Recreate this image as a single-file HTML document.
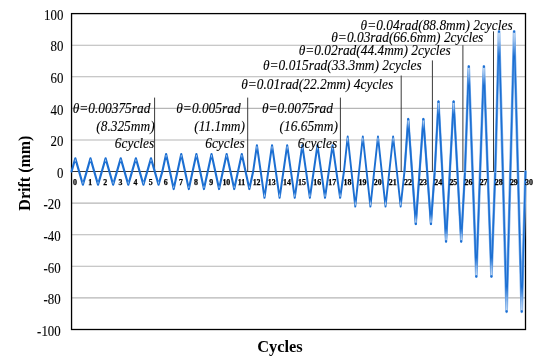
<!DOCTYPE html>
<html><head><meta charset="utf-8"><title>Loading protocol</title>
<style>
html,body{margin:0;padding:0;background:#fff;}
body{width:550px;height:364px;overflow:hidden;}
svg{display:block;}
text{font-family:"Liberation Serif","Times New Roman",serif;fill:#111;}
.ann{font-style:italic;font-size:13.4px;fill:#000;stroke:#000;stroke-width:0.1px;}
.yl{font-size:13px;text-anchor:end;fill:#000;stroke:#000;stroke-width:0.1px;}
.tk{font-size:7.9px;font-weight:bold;text-anchor:middle;fill:#000;stroke:#000;stroke-width:0.25px;}
.ax{font-size:16px;font-weight:bold;fill:#000;}
</style></head><body>
<svg width="550" height="364" viewBox="0 0 550 364">
<rect width="550" height="364" fill="#fff"/>

<line x1="71.55" x2="525.5" y1="45.19" y2="45.19" stroke="#b6b6b6" stroke-width="1.1"/>
<line x1="71.55" x2="525.5" y1="76.78" y2="76.78" stroke="#b6b6b6" stroke-width="1.1"/>
<line x1="71.55" x2="525.5" y1="108.37" y2="108.37" stroke="#b6b6b6" stroke-width="1.1"/>
<line x1="71.55" x2="525.5" y1="139.96" y2="139.96" stroke="#b6b6b6" stroke-width="1.1"/>
<line x1="71.55" x2="525.5" y1="203.14" y2="203.14" stroke="#b6b6b6" stroke-width="1.1"/>
<line x1="71.55" x2="525.5" y1="234.73" y2="234.73" stroke="#b6b6b6" stroke-width="1.1"/>
<line x1="71.55" x2="525.5" y1="266.32" y2="266.32" stroke="#b6b6b6" stroke-width="1.1"/>
<line x1="71.55" x2="525.5" y1="297.91" y2="297.91" stroke="#b6b6b6" stroke-width="1.1"/>
<text class="yl" transform="translate(63.4,19.80) scale(0.99,1.08)">100</text>
<text class="yl" transform="translate(63.4,51.39) scale(0.99,1.08)">80</text>
<text class="yl" transform="translate(63.4,82.98) scale(0.99,1.08)">60</text>
<text class="yl" transform="translate(63.4,114.57) scale(0.99,1.08)">40</text>
<text class="yl" transform="translate(63.4,146.16) scale(0.99,1.08)">20</text>
<text class="yl" transform="translate(63.4,177.75) scale(0.99,1.08)">0</text>
<text class="yl" transform="translate(60.7,209.34) scale(0.99,1.08)">-20</text>
<text class="yl" transform="translate(60.7,240.93) scale(0.99,1.08)">-40</text>
<text class="yl" transform="translate(60.7,272.52) scale(0.99,1.08)">-60</text>
<text class="yl" transform="translate(60.7,304.11) scale(0.99,1.08)">-80</text>
<text class="yl" transform="translate(60.7,335.70) scale(0.99,1.08)">-100</text>
<line x1="154.6" x2="154.6" y1="97.6" y2="171.55" stroke="#3a3a3a" stroke-width="1"/>
<line x1="247.7" x2="247.7" y1="97.6" y2="171.55" stroke="#3a3a3a" stroke-width="1"/>
<line x1="340.4" x2="340.4" y1="97.6" y2="171.55" stroke="#3a3a3a" stroke-width="1"/>
<line x1="401.2" x2="401.2" y1="75.5" y2="171.55" stroke="#3a3a3a" stroke-width="1"/>
<line x1="432.4" x2="432.4" y1="60.4" y2="171.55" stroke="#3a3a3a" stroke-width="1"/>
<line x1="462.9" x2="462.9" y1="45.2" y2="171.55" stroke="#3a3a3a" stroke-width="1"/>
<line x1="493.5" x2="493.5" y1="31.3" y2="171.55" stroke="#3a3a3a" stroke-width="1"/>
<line x1="71.55" x2="525.5" y1="171.55" y2="171.55" stroke="#333" stroke-width="1.1"/>
<rect x="71.55" y="13.6" width="453.95" height="315.90" fill="none" stroke="#000" stroke-width="1.3"/>
<polyline points="71.55,171.55 75.33,158.40 82.90,184.70 90.46,158.40 98.03,184.70 105.60,158.40 113.16,184.70 120.73,158.40 128.29,184.70 135.86,158.40 143.43,184.70 150.99,158.40 158.56,184.70 162.34,171.55" fill="none" stroke="#1c6fd2" stroke-width="2.15" stroke-linejoin="round" stroke-linecap="round"/>
<polyline points="162.34,171.55 166.12,154.02 173.69,189.08 181.25,154.02 188.82,189.08 196.39,154.02 203.95,189.08 211.52,154.02 219.08,189.08 226.65,154.02 234.22,189.08 241.78,154.02 249.35,189.08 253.13,171.55" fill="none" stroke="#1c6fd2" stroke-width="2.1" stroke-linejoin="round" stroke-linecap="round"/>
<polyline points="253.13,171.55 256.91,145.25 264.48,197.85 272.04,145.25 279.61,197.85 287.18,145.25 294.74,197.85 302.31,145.25 309.87,197.85 317.44,145.25 325.01,197.85 332.57,145.25 340.14,197.85 343.92,171.55" fill="none" stroke="#1c6fd2" stroke-width="2.0" stroke-linejoin="round" stroke-linecap="round"/>
<polyline points="343.92,171.55 347.70,136.49 355.27,206.61 362.83,136.49 370.40,206.61 377.97,136.49 385.53,206.61 393.10,136.49 400.66,206.61 404.45,171.55" fill="none" stroke="#1c6fd2" stroke-width="1.9" stroke-linejoin="round" stroke-linecap="round"/>
<polyline points="404.45,171.55 408.23,118.95 415.80,224.15 423.36,118.95 430.93,224.15 434.71,171.55" fill="none" stroke="#7db0ec" stroke-width="2.3" stroke-linejoin="round" stroke-linecap="round"/>
<polyline points="404.45,171.55 408.23,118.95 415.80,224.15 423.36,118.95 430.93,224.15 434.71,171.55" fill="none" stroke="#1c6fd2" stroke-width="1.8" stroke-linejoin="round" stroke-linecap="round"/>
<polyline points="434.71,171.55 438.49,101.42 446.06,241.68 453.62,101.42 461.19,241.68 464.97,171.55" fill="none" stroke="#7db0ec" stroke-width="2.4" stroke-linejoin="round" stroke-linecap="round"/>
<polyline points="434.71,171.55 438.49,101.42 446.06,241.68 453.62,101.42 461.19,241.68 464.97,171.55" fill="none" stroke="#1c6fd2" stroke-width="1.7" stroke-linejoin="round" stroke-linecap="round"/>
<polyline points="464.97,171.55 468.76,66.36 476.32,276.74 483.89,66.36 491.45,276.74 495.24,171.55" fill="none" stroke="#7db0ec" stroke-width="2.6" stroke-linejoin="round" stroke-linecap="round"/>
<polyline points="464.97,171.55 468.76,66.36 476.32,276.74 483.89,66.36 491.45,276.74 495.24,171.55" fill="none" stroke="#1c6fd2" stroke-width="1.55" stroke-linejoin="round" stroke-linecap="round"/>
<polyline points="495.24,171.55 499.02,31.29 506.59,311.81 514.15,31.29 521.72,311.81 525.50,171.55" fill="none" stroke="#7db0ec" stroke-width="2.7" stroke-linejoin="round" stroke-linecap="round"/>
<polyline points="495.24,171.55 499.02,31.29 506.59,311.81 514.15,31.29 521.72,311.81 525.50,171.55" fill="none" stroke="#1c6fd2" stroke-width="1.45" stroke-linejoin="round" stroke-linecap="round"/>
<defs><linearGradient id="gu" x1="0" y1="0" x2="0" y2="1"><stop offset="0" stop-color="#c6dcf6" stop-opacity="0.95"/><stop offset="0.35" stop-color="#c6dcf6" stop-opacity="0.75"/><stop offset="1" stop-color="#c6dcf6" stop-opacity="0"/></linearGradient><linearGradient id="gd" x1="0" y1="1" x2="0" y2="0"><stop offset="0" stop-color="#c6dcf6" stop-opacity="0.95"/><stop offset="0.35" stop-color="#c6dcf6" stop-opacity="0.75"/><stop offset="1" stop-color="#c6dcf6" stop-opacity="0"/></linearGradient></defs>
<rect x="74.83" y="159.60" width="1.0" height="3.00" fill="url(#gu)"/>
<rect x="82.40" y="180.50" width="1.0" height="3.00" fill="url(#gd)"/>
<rect x="89.96" y="159.60" width="1.0" height="3.00" fill="url(#gu)"/>
<rect x="97.53" y="180.50" width="1.0" height="3.00" fill="url(#gd)"/>
<rect x="105.10" y="159.60" width="1.0" height="3.00" fill="url(#gu)"/>
<rect x="112.66" y="180.50" width="1.0" height="3.00" fill="url(#gd)"/>
<rect x="120.23" y="159.60" width="1.0" height="3.00" fill="url(#gu)"/>
<rect x="127.79" y="180.50" width="1.0" height="3.00" fill="url(#gd)"/>
<rect x="135.36" y="159.60" width="1.0" height="3.00" fill="url(#gu)"/>
<rect x="142.93" y="180.50" width="1.0" height="3.00" fill="url(#gd)"/>
<rect x="150.49" y="159.60" width="1.0" height="3.00" fill="url(#gu)"/>
<rect x="158.06" y="180.50" width="1.0" height="3.00" fill="url(#gd)"/>
<rect x="165.62" y="155.22" width="1.0" height="3.00" fill="url(#gu)"/>
<rect x="173.19" y="184.88" width="1.0" height="3.00" fill="url(#gd)"/>
<rect x="180.75" y="155.22" width="1.0" height="3.00" fill="url(#gu)"/>
<rect x="188.32" y="184.88" width="1.0" height="3.00" fill="url(#gd)"/>
<rect x="195.89" y="155.22" width="1.0" height="3.00" fill="url(#gu)"/>
<rect x="203.45" y="184.88" width="1.0" height="3.00" fill="url(#gd)"/>
<rect x="211.02" y="155.22" width="1.0" height="3.00" fill="url(#gu)"/>
<rect x="218.58" y="184.88" width="1.0" height="3.00" fill="url(#gd)"/>
<rect x="226.15" y="155.22" width="1.0" height="3.00" fill="url(#gu)"/>
<rect x="233.72" y="184.88" width="1.0" height="3.00" fill="url(#gd)"/>
<rect x="241.28" y="155.22" width="1.0" height="3.00" fill="url(#gu)"/>
<rect x="248.85" y="184.88" width="1.0" height="3.00" fill="url(#gd)"/>
<rect x="256.36" y="146.45" width="1.1" height="4.50" fill="url(#gu)"/>
<rect x="263.93" y="192.15" width="1.1" height="4.50" fill="url(#gd)"/>
<rect x="271.49" y="146.45" width="1.1" height="4.50" fill="url(#gu)"/>
<rect x="279.06" y="192.15" width="1.1" height="4.50" fill="url(#gd)"/>
<rect x="286.63" y="146.45" width="1.1" height="4.50" fill="url(#gu)"/>
<rect x="294.19" y="192.15" width="1.1" height="4.50" fill="url(#gd)"/>
<rect x="301.76" y="146.45" width="1.1" height="4.50" fill="url(#gu)"/>
<rect x="309.32" y="192.15" width="1.1" height="4.50" fill="url(#gd)"/>
<rect x="316.89" y="146.45" width="1.1" height="4.50" fill="url(#gu)"/>
<rect x="324.46" y="192.15" width="1.1" height="4.50" fill="url(#gd)"/>
<rect x="332.02" y="146.45" width="1.1" height="4.50" fill="url(#gu)"/>
<rect x="339.59" y="192.15" width="1.1" height="4.50" fill="url(#gd)"/>
<rect x="347.10" y="137.69" width="1.2" height="5.99" fill="url(#gu)"/>
<rect x="354.67" y="199.42" width="1.2" height="5.99" fill="url(#gd)"/>
<rect x="362.23" y="137.69" width="1.2" height="5.99" fill="url(#gu)"/>
<rect x="369.80" y="199.42" width="1.2" height="5.99" fill="url(#gd)"/>
<rect x="377.37" y="137.69" width="1.2" height="5.99" fill="url(#gu)"/>
<rect x="384.93" y="199.42" width="1.2" height="5.99" fill="url(#gd)"/>
<rect x="392.50" y="137.69" width="1.2" height="5.99" fill="url(#gu)"/>
<rect x="400.06" y="199.42" width="1.2" height="5.99" fill="url(#gd)"/>
<rect x="407.48" y="120.15" width="1.5" height="8.99" fill="url(#gu)"/>
<circle cx="408.23" cy="119.45" r="1.05" fill="#1c6fd2"/>
<rect x="415.05" y="213.96" width="1.5" height="8.99" fill="url(#gd)"/>
<circle cx="415.80" cy="223.65" r="1.05" fill="#1c6fd2"/>
<rect x="422.61" y="120.15" width="1.5" height="8.99" fill="url(#gu)"/>
<circle cx="423.36" cy="119.45" r="1.05" fill="#1c6fd2"/>
<rect x="430.18" y="213.96" width="1.5" height="8.99" fill="url(#gd)"/>
<circle cx="430.93" cy="223.65" r="1.05" fill="#1c6fd2"/>
<rect x="437.69" y="102.62" width="1.6" height="11.99" fill="url(#gu)"/>
<circle cx="438.49" cy="101.92" r="1.05" fill="#1c6fd2"/>
<rect x="445.26" y="228.49" width="1.6" height="11.99" fill="url(#gd)"/>
<circle cx="446.06" cy="241.18" r="1.05" fill="#1c6fd2"/>
<rect x="452.82" y="102.62" width="1.6" height="11.99" fill="url(#gu)"/>
<circle cx="453.62" cy="101.92" r="1.05" fill="#1c6fd2"/>
<rect x="460.39" y="228.49" width="1.6" height="11.99" fill="url(#gd)"/>
<circle cx="461.19" cy="241.18" r="1.05" fill="#1c6fd2"/>
<rect x="467.81" y="67.56" width="1.9" height="17.98" fill="url(#gu)"/>
<circle cx="468.76" cy="66.86" r="1.05" fill="#1c6fd2"/>
<rect x="475.37" y="257.56" width="1.9" height="17.98" fill="url(#gd)"/>
<circle cx="476.32" cy="276.24" r="1.05" fill="#1c6fd2"/>
<rect x="482.94" y="67.56" width="1.9" height="17.98" fill="url(#gu)"/>
<circle cx="483.89" cy="66.86" r="1.05" fill="#1c6fd2"/>
<rect x="490.50" y="257.56" width="1.9" height="17.98" fill="url(#gd)"/>
<circle cx="491.45" cy="276.24" r="1.05" fill="#1c6fd2"/>
<rect x="498.02" y="32.49" width="2.0" height="23.98" fill="url(#gu)"/>
<circle cx="499.02" cy="31.79" r="1.05" fill="#1c6fd2"/>
<rect x="505.59" y="286.63" width="2.0" height="23.98" fill="url(#gd)"/>
<circle cx="506.59" cy="311.31" r="1.05" fill="#1c6fd2"/>
<rect x="513.15" y="32.49" width="2.0" height="23.98" fill="url(#gu)"/>
<circle cx="514.15" cy="31.79" r="1.05" fill="#1c6fd2"/>
<rect x="520.72" y="286.63" width="2.0" height="23.98" fill="url(#gd)"/>
<circle cx="521.72" cy="311.31" r="1.05" fill="#1c6fd2"/>
<text class="tk" x="75.05" y="185">0</text>
<text class="tk" x="90.18" y="185">1</text>
<text class="tk" x="105.31" y="185">2</text>
<text class="tk" x="120.44" y="185">3</text>
<text class="tk" x="135.58" y="185">4</text>
<text class="tk" x="150.71" y="185">5</text>
<text class="tk" x="165.84" y="185">6</text>
<text class="tk" x="180.97" y="185">7</text>
<text class="tk" x="196.10" y="185">8</text>
<text class="tk" x="211.24" y="185">9</text>
<text class="tk" x="226.37" y="185">10</text>
<text class="tk" x="241.50" y="185">11</text>
<text class="tk" x="256.63" y="185">12</text>
<text class="tk" x="271.76" y="185">13</text>
<text class="tk" x="286.89" y="185">14</text>
<text class="tk" x="302.02" y="185">15</text>
<text class="tk" x="317.16" y="185">16</text>
<text class="tk" x="332.29" y="185">17</text>
<text class="tk" x="347.42" y="185">18</text>
<text class="tk" x="362.55" y="185">19</text>
<text class="tk" x="377.68" y="185">20</text>
<text class="tk" x="392.81" y="185">21</text>
<text class="tk" x="407.95" y="185">22</text>
<text class="tk" x="423.08" y="185">23</text>
<text class="tk" x="438.21" y="185">24</text>
<text class="tk" x="453.34" y="185">25</text>
<text class="tk" x="468.47" y="185">26</text>
<text class="tk" x="483.61" y="185">27</text>
<text class="tk" x="498.74" y="185">28</text>
<text class="tk" x="513.87" y="185">29</text>
<text class="tk" x="529.00" y="185">30</text>
<text class="ann" transform="translate(150.4,112.9) scale(1.0,1.07)" text-anchor="end">θ=0.00375rad</text>
<text class="ann" transform="translate(154.6,130.6) scale(1.0,1.07)" text-anchor="end">(8.325mm)</text>
<text class="ann" transform="translate(154.2,147.7) scale(1.0,1.07)" text-anchor="end">6cycles</text>
<text class="ann" transform="translate(240.6,112.9) scale(1.0,1.07)" text-anchor="end">θ=0.005rad</text>
<text class="ann" transform="translate(245.0,130.6) scale(1.0,1.07)" text-anchor="end">(11.1mm)</text>
<text class="ann" transform="translate(244.6,147.7) scale(1.0,1.07)" text-anchor="end">6cycles</text>
<text class="ann" transform="translate(332.9,112.9) scale(1.0,1.07)" text-anchor="end">θ=0.0075rad</text>
<text class="ann" transform="translate(337.9,130.6) scale(1.0,1.07)" text-anchor="end">(16.65mm)</text>
<text class="ann" transform="translate(337.2,147.7) scale(1.0,1.07)" text-anchor="end">6cycles</text>
<text class="ann" transform="translate(241.2,89.0) scale(1.0,1.07)" text-anchor="start">θ=0.01rad(22.2mm) 4cycles</text>
<text class="ann" transform="translate(263.0,70.0) scale(1.0,1.07)" text-anchor="start">θ=0.015rad(33.3mm) 2cycles</text>
<text class="ann" transform="translate(298.7,55.3) scale(1.0,1.07)" text-anchor="start">θ=0.02rad(44.4mm) 2cycles</text>
<text class="ann" transform="translate(331.3,41.7) scale(1.0,1.07)" text-anchor="start">θ=0.03rad(66.6mm) 2cycles</text>
<text class="ann" transform="translate(360.6,29.9) scale(1.0,1.07)" text-anchor="start">θ=0.04rad(88.8mm) 2cycles</text>
<text class="ax" x="279.9" y="352.1" text-anchor="middle" style="font-size:16.4px">Cycles</text>
<text class="ax" transform="translate(29.8,173.1) rotate(-90)" text-anchor="middle">Drift (mm)</text>
</svg></body></html>
